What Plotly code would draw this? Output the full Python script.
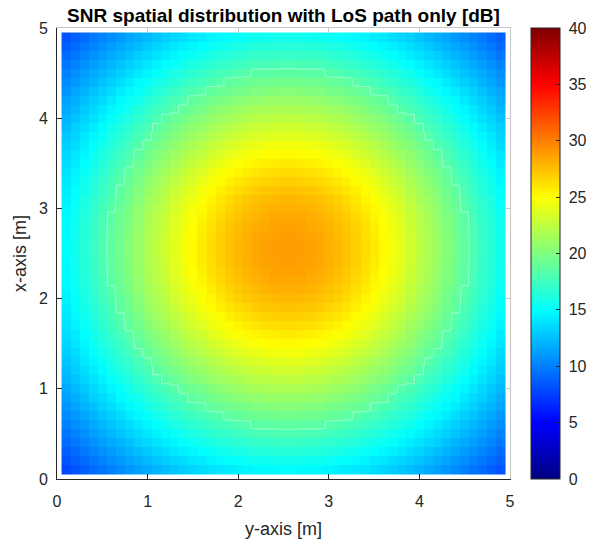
import plotly.graph_objects as go

# SNR [dB]: one quadrant of the symmetric map.
# SNR_QUADRANT[m][n]: m, n = cell offset from the room centre (0 = centre cell)
SNR_QUADRANT = [
    [28.9, 28.8, 28.7, 28.4, 28.1, 27.8, 27.4, 26.9, 26.4, 25.8, 25.2, 24.6, 23.9, 23.2, 22.5, 21.7, 21.0, 20.3, 19.5, 18.7, 18.0, 17.2, 16.5, 15.7, 15.0],
    [28.8, 28.7, 28.6, 28.4, 28.1, 27.7, 27.3, 26.8, 26.3, 25.7, 25.1, 24.5, 23.8, 23.1, 22.4, 21.7, 21.0, 20.2, 19.5, 18.7, 17.9, 17.2, 16.4, 15.7, 14.9],
    [28.7, 28.6, 28.4, 28.2, 27.9, 27.6, 27.2, 26.7, 26.2, 25.6, 25.0, 24.4, 23.7, 23.0, 22.3, 21.6, 20.9, 20.1, 19.4, 18.6, 17.9, 17.1, 16.4, 15.6, 14.9],
    [28.4, 28.4, 28.2, 28.0, 27.7, 27.4, 27.0, 26.5, 26.0, 25.4, 24.8, 24.2, 23.6, 22.9, 22.2, 21.5, 20.7, 20.0, 19.3, 18.5, 17.8, 17.0, 16.3, 15.5, 14.8],
    [28.1, 28.1, 27.9, 27.7, 27.4, 27.1, 26.7, 26.2, 25.7, 25.2, 24.6, 24.0, 23.3, 22.7, 22.0, 21.3, 20.6, 19.8, 19.1, 18.4, 17.6, 16.9, 16.1, 15.4, 14.7],
    [27.8, 27.7, 27.6, 27.4, 27.1, 26.8, 26.4, 25.9, 25.4, 24.9, 24.3, 23.7, 23.1, 22.4, 21.7, 21.1, 20.3, 19.6, 18.9, 18.2, 17.4, 16.7, 16.0, 15.2, 14.5],
    [27.4, 27.3, 27.2, 27.0, 26.7, 26.4, 26.0, 25.6, 25.1, 24.6, 24.0, 23.4, 22.8, 22.1, 21.5, 20.8, 20.1, 19.4, 18.7, 17.9, 17.2, 16.5, 15.8, 15.1, 14.3],
    [26.9, 26.8, 26.7, 26.5, 26.2, 25.9, 25.6, 25.1, 24.7, 24.2, 23.6, 23.0, 22.4, 21.8, 21.1, 20.5, 19.8, 19.1, 18.4, 17.7, 17.0, 16.3, 15.6, 14.8, 14.1],
    [26.4, 26.3, 26.2, 26.0, 25.7, 25.4, 25.1, 24.7, 24.2, 23.7, 23.2, 22.6, 22.0, 21.4, 20.8, 20.1, 19.5, 18.8, 18.1, 17.4, 16.7, 16.0, 15.3, 14.6, 13.9],
    [25.8, 25.7, 25.6, 25.4, 25.2, 24.9, 24.6, 24.2, 23.7, 23.2, 22.7, 22.2, 21.6, 21.0, 20.4, 19.7, 19.1, 18.4, 17.8, 17.1, 16.4, 15.7, 15.0, 14.3, 13.7],
    [25.2, 25.1, 25.0, 24.8, 24.6, 24.3, 24.0, 23.6, 23.2, 22.7, 22.2, 21.7, 21.1, 20.6, 20.0, 19.3, 18.7, 18.1, 17.4, 16.7, 16.1, 15.4, 14.7, 14.1, 13.4],
    [24.6, 24.5, 24.4, 24.2, 24.0, 23.7, 23.4, 23.0, 22.6, 22.2, 21.7, 21.2, 20.6, 20.1, 19.5, 18.9, 18.3, 17.7, 17.0, 16.4, 15.7, 15.1, 14.4, 13.7, 13.1],
    [23.9, 23.8, 23.7, 23.6, 23.3, 23.1, 22.8, 22.4, 22.0, 21.6, 21.1, 20.6, 20.1, 19.6, 19.0, 18.4, 17.8, 17.2, 16.6, 16.0, 15.3, 14.7, 14.1, 13.4, 12.8],
    [23.2, 23.1, 23.0, 22.9, 22.7, 22.4, 22.1, 21.8, 21.4, 21.0, 20.6, 20.1, 19.6, 19.1, 18.5, 17.9, 17.4, 16.8, 16.2, 15.6, 14.9, 14.3, 13.7, 13.1, 12.4],
    [22.5, 22.4, 22.3, 22.2, 22.0, 21.7, 21.5, 21.1, 20.8, 20.4, 20.0, 19.5, 19.0, 18.5, 18.0, 17.4, 16.9, 16.3, 15.7, 15.1, 14.5, 13.9, 13.3, 12.7, 12.1],
    [21.7, 21.7, 21.6, 21.5, 21.3, 21.1, 20.8, 20.5, 20.1, 19.7, 19.3, 18.9, 18.4, 17.9, 17.4, 16.9, 16.4, 15.8, 15.2, 14.7, 14.1, 13.5, 12.9, 12.3, 11.7],
    [21.0, 21.0, 20.9, 20.7, 20.6, 20.3, 20.1, 19.8, 19.5, 19.1, 18.7, 18.3, 17.8, 17.4, 16.9, 16.4, 15.8, 15.3, 14.8, 14.2, 13.6, 13.1, 12.5, 11.9, 11.3],
    [20.3, 20.2, 20.1, 20.0, 19.8, 19.6, 19.4, 19.1, 18.8, 18.4, 18.1, 17.7, 17.2, 16.8, 16.3, 15.8, 15.3, 14.8, 14.3, 13.7, 13.2, 12.6, 12.0, 11.5, 10.9],
    [19.5, 19.5, 19.4, 19.3, 19.1, 18.9, 18.7, 18.4, 18.1, 17.8, 17.4, 17.0, 16.6, 16.2, 15.7, 15.2, 14.8, 14.3, 13.7, 13.2, 12.7, 12.1, 11.6, 11.0, 10.5],
    [18.7, 18.7, 18.6, 18.5, 18.4, 18.2, 17.9, 17.7, 17.4, 17.1, 16.7, 16.4, 16.0, 15.6, 15.1, 14.7, 14.2, 13.7, 13.2, 12.7, 12.2, 11.7, 11.1, 10.6, 10.1],
    [18.0, 17.9, 17.9, 17.8, 17.6, 17.4, 17.2, 17.0, 16.7, 16.4, 16.1, 15.7, 15.3, 14.9, 14.5, 14.1, 13.6, 13.2, 12.7, 12.2, 11.7, 11.2, 10.7, 10.2, 9.6],
    [17.2, 17.2, 17.1, 17.0, 16.9, 16.7, 16.5, 16.3, 16.0, 15.7, 15.4, 15.1, 14.7, 14.3, 13.9, 13.5, 13.1, 12.6, 12.1, 11.7, 11.2, 10.7, 10.2, 9.7, 9.2],
    [16.5, 16.4, 16.4, 16.3, 16.1, 16.0, 15.8, 15.6, 15.3, 15.0, 14.7, 14.4, 14.1, 13.7, 13.3, 12.9, 12.5, 12.0, 11.6, 11.1, 10.7, 10.2, 9.7, 9.2, 8.7],
    [15.7, 15.7, 15.6, 15.5, 15.4, 15.2, 15.1, 14.8, 14.6, 14.3, 14.1, 13.7, 13.4, 13.1, 12.7, 12.3, 11.9, 11.5, 11.0, 10.6, 10.2, 9.7, 9.2, 8.8, 8.3],
    [15.0, 14.9, 14.9, 14.8, 14.7, 14.5, 14.3, 14.1, 13.9, 13.7, 13.4, 13.1, 12.8, 12.4, 12.1, 11.7, 11.3, 10.9, 10.5, 10.1, 9.6, 9.2, 8.7, 8.3, 7.8],
]

# which quadrant offset each of the 49 displayed cells (low -> high coordinate) shows
CELL_OFFSET = [24, 23, 22, 21, 20, 19, 18, 17, 16, 15, 14, 13, 12, 11, 10, 9, 8, 7, 6, 5, 4, 3, 2, 1, 0,
               0, 1, 2, 3, 4, 5, 6, 7, 8, 9, 10, 11, 12, 13, 14, 15, 16, 17, 18, 19, 20, 21, 22, 23]

CELL_SIZE = 0.1  # m
CELL_CENTRES = [round(CELL_SIZE * (k + 1), 2) for k in range(len(CELL_OFFSET))]

AXIS_TICKS = [0, 1, 2, 3, 4, 5]
CBAR_TICKS = [0, 5, 10, 15, 20, 25, 30, 35, 40]
RING_LEVEL = 18.4  # faint white seam ring seen in the picture

TITLE = "SNR spatial distribution with LoS path only [dB]"
X_LABEL = "y-axis [m]"
Y_LABEL = "x-axis [m]"

z = [[SNR_QUADRANT[my][mx] for mx in CELL_OFFSET] for my in CELL_OFFSET]

# nearest-neighbour subdivision of every cell so the seam follows the cell edges
SUB = 6
sub_pos = [round(c - CELL_SIZE / 2 + CELL_SIZE * (i + 0.5) / SUB, 4)
           for c in CELL_CENTRES for i in range(SUB)]
z_sub = [[v for v in row for _ in range(SUB)] for row in z for _ in range(SUB)]

jet = [
    [0.0, "rgb(0,0,128)"],
    [0.125, "rgb(0,0,255)"],
    [0.375, "rgb(0,255,255)"],
    [0.625, "rgb(255,255,0)"],
    [0.875, "rgb(255,0,0)"],
    [1.0, "rgb(128,0,0)"],
]

FONT = "Liberation Sans, Arial, Helvetica, sans-serif"
DARK = "#262626"
LIGHT = "#c8c8c8"

fig = go.Figure()
fig.add_trace(go.Heatmap(
    x=CELL_CENTRES, y=CELL_CENTRES, z=z,
    colorscale=jet, zmin=0, zmax=40, zsmooth=False,
    colorbar=dict(
        x=1.0464, xanchor="left", y=0.5, yanchor="middle",
        len=1.0, lenmode="fraction", thickness=29, thicknessmode="pixels",
        xpad=0, ypad=0,
        outlinewidth=1, outlinecolor=DARK,
        tickmode="array", tickvals=CBAR_TICKS,
        ticktext=["\u00a0" + str(t) for t in CBAR_TICKS],
        ticks="inside", ticklen=4, tickcolor=DARK,
        tickfont=dict(family=FONT, size=16, color=DARK),
    ),
    hoverinfo="skip",
))
fig.add_trace(go.Contour(
    x=sub_pos, y=sub_pos, z=z_sub,
    contours=dict(start=RING_LEVEL, end=RING_LEVEL, size=1, coloring="none"),
    line=dict(color="rgba(255,255,255,0.45)", width=1, smoothing=0),
    showscale=False, hoverinfo="skip",
))
# helper trace so the mirrored (top / right) box axes are drawn
fig.add_trace(go.Scatter(x=[0], y=[0], xaxis="x2", yaxis="y2", mode="markers",
                         marker=dict(size=0.1, opacity=0), showlegend=False, hoverinfo="skip"))

axis_common = dict(range=[0, 5], tickmode="array", tickvals=AXIS_TICKS, showgrid=False,
                   zeroline=False, fixedrange=True)

fig.update_layout(
    width=590, height=541,
    margin=dict(l=57, r=80, t=28, b=62, autoexpand=False),
    paper_bgcolor="white", plot_bgcolor="white",
    font=dict(family=FONT, size=16, color=DARK),
    showlegend=False,
    title=dict(text="<b>" + TITLE + "</b>", x=0.5, xref="paper", xanchor="center",
               y=1 - 15 / 541, yref="container", yanchor="middle",
               font=dict(family=FONT, size=19, color="black")),
    xaxis=dict(**axis_common, ticks="inside", ticklen=5, tickcolor=DARK, showline=True,
               linecolor=DARK, linewidth=1, tickfont=dict(size=16, color=DARK),
               ticklabelstandoff=8,
               title=dict(text=X_LABEL, font=dict(size=18, color=DARK), standoff=13)),
    yaxis=dict(**axis_common, ticks="inside", ticklen=5, tickcolor=DARK, showline=True,
               linecolor=DARK, linewidth=1, tickfont=dict(size=16, color=DARK),
               ticklabelstandoff=5,
               title=dict(text=Y_LABEL, font=dict(size=18, color=DARK), standoff=7)),
    xaxis2=dict(**axis_common, overlaying="x", side="top", ticks="inside", ticklen=5,
                tickcolor=LIGHT, showline=True, linecolor=LIGHT, linewidth=1,
                showticklabels=False),
    yaxis2=dict(**axis_common, overlaying="y", side="right", ticks="inside", ticklen=5,
                tickcolor=LIGHT, showline=True, linecolor=LIGHT, linewidth=1,
                showticklabels=False),
)

fig.write_html("out.html")
